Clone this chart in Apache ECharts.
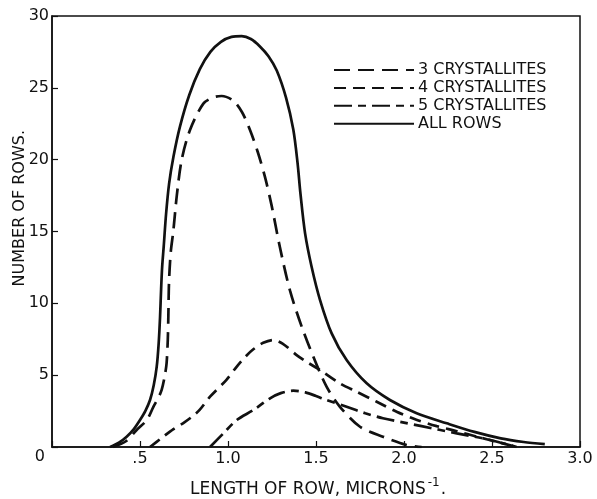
<!DOCTYPE html>
<html>
<head>
<meta charset="utf-8">
<script src="https://cdn.jsdelivr.net/npm/echarts@6/dist/echarts.min.js"></script>
<style>html,body{margin:0;padding:0;background:#fff;}#c{width:597px;height:499px;}</style>
</head>
<body>
<div id="c"></div>
<script>
const seriesNames = ['3 CRYSTALLITES', '4 CRYSTALLITES', '5 CRYSTALLITES', 'ALL ROWS'];
const xTicks = ['0', '.5', '1.0', '1.5', '2.0', '2.5', '3.0'];
const yTicks = ['0', '5', '10', '15', '20', '25', '30'];

const crys3 = [[0.347,0],[0.42,0.4],[0.481,1.18],[0.54,1.9],[0.576,2.8],[0.603,3.4],[0.623,3.97],[0.64,4.9],[0.651,5.82],[0.658,7.5],[0.661,9.07],[0.665,11.5],[0.675,13.6],[0.689,15.0],[0.71,17.6],[0.737,20.0],[0.784,22.06],[0.86,23.9],[0.92,24.35],[0.964,24.43],[1.03,24.1],[1.08,23.3],[1.125,22.06],[1.17,20.5],[1.21,18.8],[1.248,16.8],[1.295,13.9],[1.352,10.9],[1.419,8.37],[1.485,6.28],[1.56,4.2],[1.636,2.8],[1.75,1.41],[1.88,0.72],[2.015,0.14],[2.1,0]];
const crys4 = [[0.557,0],[0.62,0.6],[0.69,1.25],[0.75,1.7],[0.8,2.15],[0.84,2.6],[0.898,3.5],[0.99,4.66],[1.05,5.6],[1.1,6.3],[1.144,6.8],[1.2,7.25],[1.257,7.45],[1.31,7.2],[1.39,6.4],[1.45,5.9],[1.523,5.36],[1.636,4.43],[1.73,3.85],[1.845,3.15],[1.958,2.46],[2.07,1.9],[2.186,1.45],[2.3,1.1],[2.42,0.7],[2.53,0.35],[2.64,0]];
const crys5 = [[0.898,0],[0.97,0.9],[1.05,1.88],[1.144,2.57],[1.239,3.39],[1.3,3.75],[1.371,3.92],[1.44,3.8],[1.5,3.55],[1.56,3.27],[1.674,2.8],[1.78,2.35],[1.88,2.0],[2.0,1.7],[2.1,1.45],[2.2,1.2],[2.3,0.95],[2.45,0.6],[2.55,0.3],[2.64,0]];
const allRows = [[0.33,0],[0.38,0.3],[0.424,0.72],[0.465,1.25],[0.5,1.88],[0.53,2.5],[0.557,3.27],[0.578,4.3],[0.595,5.59],[0.606,7.2],[0.614,9.07],[0.62,11.0],[0.626,12.55],[0.635,14.0],[0.648,16.2],[0.665,18.3],[0.69,20.2],[0.727,22.3],[0.78,24.5],[0.84,26.3],[0.9,27.5],[0.96,28.2],[1.02,28.55],[1.078,28.6],[1.13,28.4],[1.18,27.9],[1.23,27.2],[1.277,26.2],[1.33,24.3],[1.371,22.1],[1.395,19.8],[1.412,17.6],[1.438,14.87],[1.475,12.55],[1.523,10.23],[1.589,7.91],[1.674,6.05],[1.788,4.43],[1.92,3.27],[2.072,2.35],[2.243,1.65],[2.4,1.05],[2.55,0.6],[2.68,0.35],[2.8,0.2]];

const seriesData = [crys3, crys4, crys5, allRows];
const dashTypes = [[16, 8], [12, 7], [18, 6, 8, 6], 'solid'];

const chart = echarts.init(document.getElementById('c'));
const FONT = 'DejaVu Sans';
chart.setOption({
  animation: false,
  backgroundColor: '#fff',
  grid: { left: 52, right: 17, top: 16, bottom: 52, show: true, borderColor: '#111', borderWidth: 1.5 },
  legend: {
    orient: 'vertical', left: 333, top: 62, padding: 0, itemWidth: 80, itemHeight: 14, itemGap: 1.9,
    itemStyle: { color: 'rgba(0,0,0,0)', borderWidth: 0 },
    textStyle: { fontFamily: FONT, fontSize: 16, lineHeight: 14, color: '#111', padding: [0,0,0,-1] },
    data: seriesNames
  },
  xAxis: {
    type: 'value', min: 0, max: 3, interval: 0.5,
    axisLine: { show: true, lineStyle: { color: '#111', width: 1.5 } },
    axisTick: { show: true, inside: true, length: 6, lineStyle: { color: '#111', width: 1.2 } },
    splitLine: { show: false },
    axisLabel: { margin: 4, fontFamily: FONT, fontSize: 16, color: '#111',
      formatter: function (v) { const i = Math.round(v / 0.5); return i === 0 ? '' : xTicks[i]; } }
  },
  yAxis: {
    type: 'value', min: 0, max: 30, interval: 5,
    axisLine: { show: true, lineStyle: { color: '#111', width: 1.5 } },
    axisTick: { show: true, inside: true, length: 6, lineStyle: { color: '#111', width: 1.2 } },
    splitLine: { show: false },
    axisLabel: { margin: 3, fontFamily: FONT, fontSize: 16, color: '#111',
      formatter: function (v) { const i = Math.round(v / 5); return i === 0 ? '{z|' + yTicks[0] + '}' : yTicks[i]; },
      rich: { z: { fontFamily: FONT, fontSize: 16, color: '#111', padding: [20, 4, 0, 0] } } }
  },
  graphic: [
    { type: 'text', left: 12, top: 130, rotation: Math.PI / 2,
      style: { text: 'NUMBER OF ROWS.', font: '16px "DejaVu Sans"', fill: '#111' } },
    { type: 'text', left: 190, top: 477,
      style: { text: '{a|LENGTH OF ROW, MICRONS}{s|-1}{a|.}', fill: '#111',
        rich: { a: { font: '17px "DejaVu Sans"', fill: '#111', verticalAlign: 'bottom' },
                s: { font: '12px "DejaVu Sans"', fill: '#111', verticalAlign: 'top', padding: [0, 1, 9, 2] } } } }
  ],
  series: seriesData.map(function (d, i) {
    return {
      name: seriesNames[i], type: 'line', data: d, symbol: 'none', smooth: 0.3,
      lineStyle: { color: '#111', width: 2.7, type: dashTypes[i] }, itemStyle: { color: '#111' }
    };
  })
});
</script>
</body>
</html>
